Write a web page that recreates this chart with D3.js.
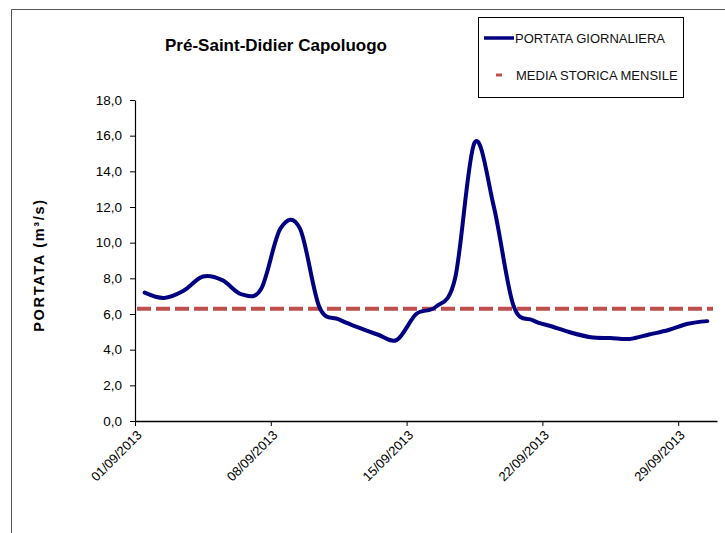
<!DOCTYPE html>
<html>
<head>
<meta charset="utf-8">
<script src="https://cdn.jsdelivr.net/npm/d3@7"></script>
<style>
  body { margin: 0; background: #fff; }
  svg { display: block; font-family: "Liberation Sans", Arial, sans-serif; }
</style>
</head>
<body>
<svg id="chart"></svg>
<script>
// Daily discharge, September 2013
const days = d3.range(1, 31).map(d => String(d).padStart(2, "0") + "/09/2013");
const portata = [7.2, 6.9, 7.3, 8.1, 7.9, 7.1, 7.4, 10.8, 10.8, 6.4,
                 5.7, 5.25, 4.85, 4.55, 6.0, 6.4, 8.0, 15.6, 12.0, 6.5,
                 5.65, 5.3, 4.95, 4.7, 4.65, 4.6, 4.85, 5.1, 5.45, 5.6];
const mediaStorica = 6.3;
const yTicks = [0, 2, 4, 6, 8, 10, 12, 14, 16, 18];
const xTickIdx = [0, 7, 14, 21, 28];

const width = 725, height = 533;
const plotLeft = 135, plotRight = 717, plotTop = 100, plotBottom = 421;

const svg = d3.select("#chart").attr("width", width).attr("height", height);

// frame (cropped at right and bottom)
svg.append("path")
  .attr("d", `M11.5,${height} V9.5 H${width}`)
  .attr("fill", "none").attr("stroke", "#555").attr("stroke-width", 1);

const x = d3.scaleLinear().domain([0, 30]).range([plotLeft, plotRight]);
const y = d3.scaleLinear().domain([0, 18]).range([plotBottom, plotTop]);

const fmt = v => v.toFixed(1).replace(".", ",");

// y axis
const yAxisG = svg.append("g").attr("transform", `translate(${plotLeft},0)`)
  .call(d3.axisLeft(y).tickValues(yTicks).tickFormat(fmt).tickSize(5).tickSizeOuter(0));
yAxisG.select(".domain").attr("stroke", "#000").attr("stroke-width", 1.2);
yAxisG.selectAll("text").attr("font-size", 13.5).attr("fill", "#000")
  .attr("font-family", "Liberation Sans, Arial, sans-serif").attr("x", -13);

// x axis
const xAxisG = svg.append("g").attr("transform", `translate(0,${plotBottom})`)
  .call(d3.axisBottom(x).tickValues(xTickIdx).tickFormat(i => days[i]).tickSize(5).tickSizeOuter(0));
xAxisG.select(".domain").attr("stroke", "#000").attr("stroke-width", 1.5);
xAxisG.selectAll("text")
  .attr("font-size", 13).attr("fill", "#000")
  .attr("font-family", "Liberation Sans, Arial, sans-serif")
  .attr("text-anchor", "end")
  .attr("dy", null).attr("y", 0)
  .attr("transform", "translate(7,15) rotate(-45)");

// historical mean
svg.append("line")
  .attr("x1", plotLeft + 2).attr("x2", plotRight - 4)
  .attr("y1", y(mediaStorica)).attr("y2", y(mediaStorica))
  .attr("stroke", "#bf4f4c").attr("stroke-width", 4)
  .attr("stroke-dasharray", "14,5");

// daily discharge (smoothed like the spreadsheet line)
const line = d3.line()
  .x((d, i) => x(i + 0.5))
  .y(d => y(d))
  .curve(d3.curveCatmullRom.alpha(0));

svg.append("path")
  .datum(portata)
  .attr("d", line)
  .attr("fill", "none")
  .attr("stroke", "#000080")
  .attr("stroke-width", 4)
  .attr("stroke-linejoin", "round")
  .attr("stroke-linecap", "round");

// title
svg.append("text")
  .attr("x", 276).attr("y", 51)
  .attr("text-anchor", "middle")
  .attr("font-size", 17).attr("font-weight", "bold")
  .text("Pré-Saint-Didier Capoluogo");

// y label
svg.append("text")
  .attr("transform", "translate(44,265) rotate(-90)")
  .attr("text-anchor", "middle")
  .attr("font-size", 14.5).attr("font-weight", "bold")
  .attr("letter-spacing", 1.7)
  .text("PORTATA (m³/s)");

// legend
const lg = svg.append("g");
lg.append("rect")
  .attr("x", 478.5).attr("y", 17.5).attr("width", 205).attr("height", 80)
  .attr("fill", "#fff").attr("stroke", "#000").attr("stroke-width", 1);
lg.append("line")
  .attr("x1", 484).attr("x2", 514).attr("y1", 38).attr("y2", 38)
  .attr("stroke", "#000080").attr("stroke-width", 3.5);
lg.append("text").attr("x", 515).attr("y", 42.5)
  .attr("font-size", 13).attr("fill", "#111").text("PORTATA GIORNALIERA");
lg.append("line")
  .attr("x1", 496).attr("x2", 502).attr("y1", 75).attr("y2", 75)
  .attr("stroke", "#bf4f4c").attr("stroke-width", 3);
lg.append("text").attr("x", 516).attr("y", 79.5)
  .attr("font-size", 13).attr("fill", "#111").text("MEDIA STORICA MENSILE");
</script>
</body>
</html>
